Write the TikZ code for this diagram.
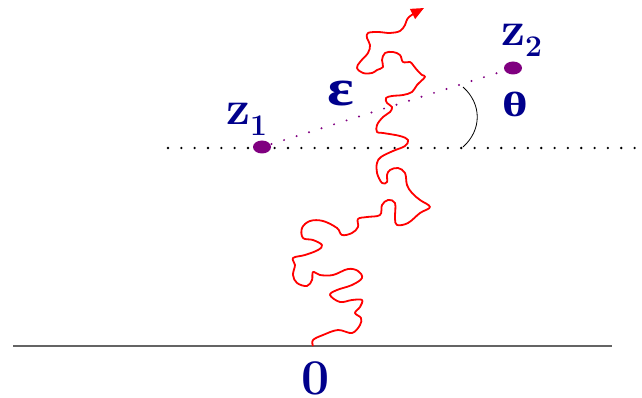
\documentclass[tikz,border=0pt]{standalone}
\usepackage{fontspec}
\newfontfamily\greekfont{Liberation Serif}
\usetikzlibrary{arrows.meta}
\usetikzlibrary{shapes}
\definecolor{labelblue}{RGB}{0,0,140}
\definecolor{pointpurple}{RGB}{128,0,128}
\definecolor{axisgray}{RGB}{100,100,100}
\newcommand{\LowSub}[1]{\raisebox{-11pt}{\fontsize{30}{30}\selectfont #1}}

\begin{document}
\begin{tikzpicture}[x = 1pt, y = -1pt]
\tikzstyle{LabelStyle}=[text = labelblue, inner sep = 0pt, font = \fontsize{48}{48}\selectfont\bfseries]
\tikzstyle{PointStyle}=[shape = ellipse, fill = pointpurple, minimum width = 18pt,
minimum height = 13pt, inner sep = 0pt]
\tikzstyle{BlackDots}=[line width = 2.6pt, line cap = round, dash pattern = on 0pt off 13.33pt]
\tikzstyle{PurpleDots}=[pointpurple, line width = 2.2pt, line cap = round, dash pattern = on 0pt off 13.1pt]
\tikzstyle{WalkStyle}=[red, line width = 1.8pt, line join = round, -{Triangle[length = 13pt, width = 11pt]}]
\useasboundingbox (0,0) rectangle (642,398);
\coordinate (axisL) at (13,346);
\coordinate (axisR) at (612,346);
\coordinate (lineL) at (168,148);
\coordinate (lineR) at (640,148);
\coordinate (arcA) at (463,147);
\coordinate (arcB) at (463,87);
\draw[axisgray, line width = 1.2pt] (axisL) -- (axisR);
\draw[BlackDots] (lineL) -- (lineR);
\node[PointStyle] (z1) at (262,147) {};
\node[PointStyle] (z2) at (513,68) {};
\draw[PurpleDots, shorten <= 10pt] (z1.center) -- (z2);
\draw[line width = 0.8pt] (arcA) .. controls (482,130) and (482,104) .. (arcB);
\node[LabelStyle, anchor = base west] (zlab1) at (226,125) {z\LowSub{1}};
\node[LabelStyle, anchor = base west] (zlab2) at (501,46) {z\LowSub{2}};
\node[LabelStyle, anchor = base, xscale = 1.2, font = \greekfont\fontsize{52}{52}\selectfont\bfseries] (eps) at (341,106) {ε};
\node[LabelStyle, anchor = base, xscale = 1.4, font = \greekfont\fontsize{35}{35}\selectfont\bfseries] (theta) at (515,117) {θ};
\node[LabelStyle, anchor = base, font = \fontsize{50}{50}\selectfont\bfseries] (orig) at (316,394) {0};
\draw[WalkStyle] plot[smooth, tension = 0.6] coordinates {
(313,346) (313,340) (323,335) (338,330) (352,333) (360,325) (361,318) (355,313)
(360,307) (362,300) (352,300) (340,302) (330,295) (337,290) (352,285) (362,278)
(358,271) (348,269) (333,275) (320,275) (313,272) (312,280) (307,286) (297,283)
(293,275) (295,265) (293,258) (305,255) (318,250) (322,245) (313,240) (303,238)
(302,228) (310,221) (323,221) (337,228) (342,235) (352,233) (358,227) (358,219)
(367,217) (380,215) (382,205) (388,200) (395,203) (395,218) (397,225) (408,223)
(420,213) (430,207) (420,200) (412,193) (407,185) (405,173) (398,168) (390,170)
(387,175) (387,182) (382,183) (377,173) (377,163) (381,157) (393,151) (405,146)
(408,140) (400,136) (383,133) (377,132) (377,125) (383,117) (390,112) (392,107)
(387,103) (386,98) (392,96) (403,95) (412,92) (417,85) (425,77) (422,75)
(417,70) (413,65) (410,62) (403,62) (400,55) (393,52) (385,53) (382,60)
(383,67) (377,70) (372,73) (363,73) (357,68) (360,62) (368,53) (370,45)
(367,38) (368,33) (378,32) (390,33) (400,31) (405,25) (409,17) (424,8)};
\end{tikzpicture}
\end{document}
